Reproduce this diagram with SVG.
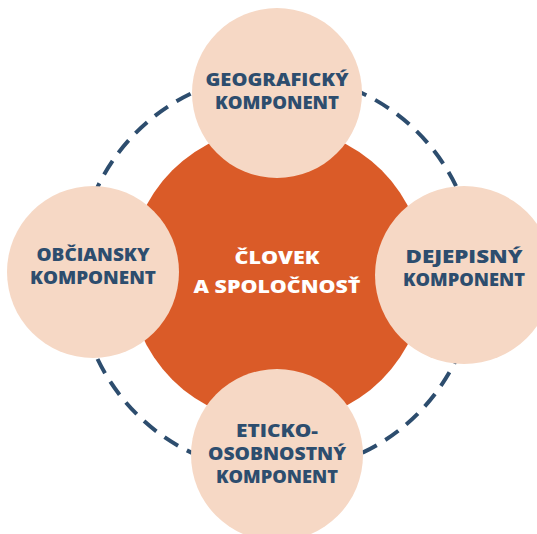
<svg xmlns="http://www.w3.org/2000/svg" width="537" height="534" viewBox="0 0 537 534">
<style>
.ring{fill:none;stroke:#2d4d6e;stroke-width:4;stroke-dasharray:16 10}
.core{fill:#da5b28}
.node{fill:#f6d8c5}
.t{font-family:"Open Sans","Liberation Sans",sans-serif;font-weight:800;font-size:17.5px;fill:#2d4d6e;text-anchor:middle}
.w{fill:#ffffff}
</style>
<rect width="537" height="534" fill="#ffffff"/>
<g id="connectors">
<circle class="ring" cx="277" cy="273" r="199"/>
</g>
<g id="center">
<circle class="core" cx="277" cy="275" r="148"/>
<text class="t w" x="277" y="264" textLength="85" lengthAdjust="spacingAndGlyphs">ČLOVEK</text>
<text class="t w" x="277" y="293" textLength="167" lengthAdjust="spacingAndGlyphs">A SPOLOČNOSŤ</text>
</g>
<g id="geo">
<circle class="node" cx="277" cy="93" r="85"/>
<text class="t" x="277" y="86" textLength="143" lengthAdjust="spacingAndGlyphs">GEOGRAFICKÝ</text>
<text class="t" x="277" y="109" textLength="124" lengthAdjust="spacingAndGlyphs">KOMPONENT</text>
</g>
<g id="obc">
<circle class="node" cx="93" cy="272" r="86"/>
<text class="t" x="93" y="261" textLength="113" lengthAdjust="spacingAndGlyphs">OBČIANSKY</text>
<text class="t" x="93" y="284" textLength="126" lengthAdjust="spacingAndGlyphs">KOMPONENT</text>
</g>
<g id="dej">
<circle class="node" cx="464" cy="275" r="89"/>
<text class="t" x="464" y="263" textLength="117" lengthAdjust="spacingAndGlyphs">DEJEPISNÝ</text>
<text class="t" x="464" y="286" textLength="122" lengthAdjust="spacingAndGlyphs">KOMPONENT</text>
</g>
<g id="eti">
<circle class="node" cx="277" cy="455" r="86"/>
<text class="t" x="277" y="437" textLength="82" lengthAdjust="spacingAndGlyphs">ETICKO-</text>
<text class="t" x="277" y="460" textLength="138" lengthAdjust="spacingAndGlyphs">OSOBNOSTNÝ</text>
<text class="t" x="277" y="483" textLength="122" lengthAdjust="spacingAndGlyphs">KOMPONENT</text>
</g>
</svg>
